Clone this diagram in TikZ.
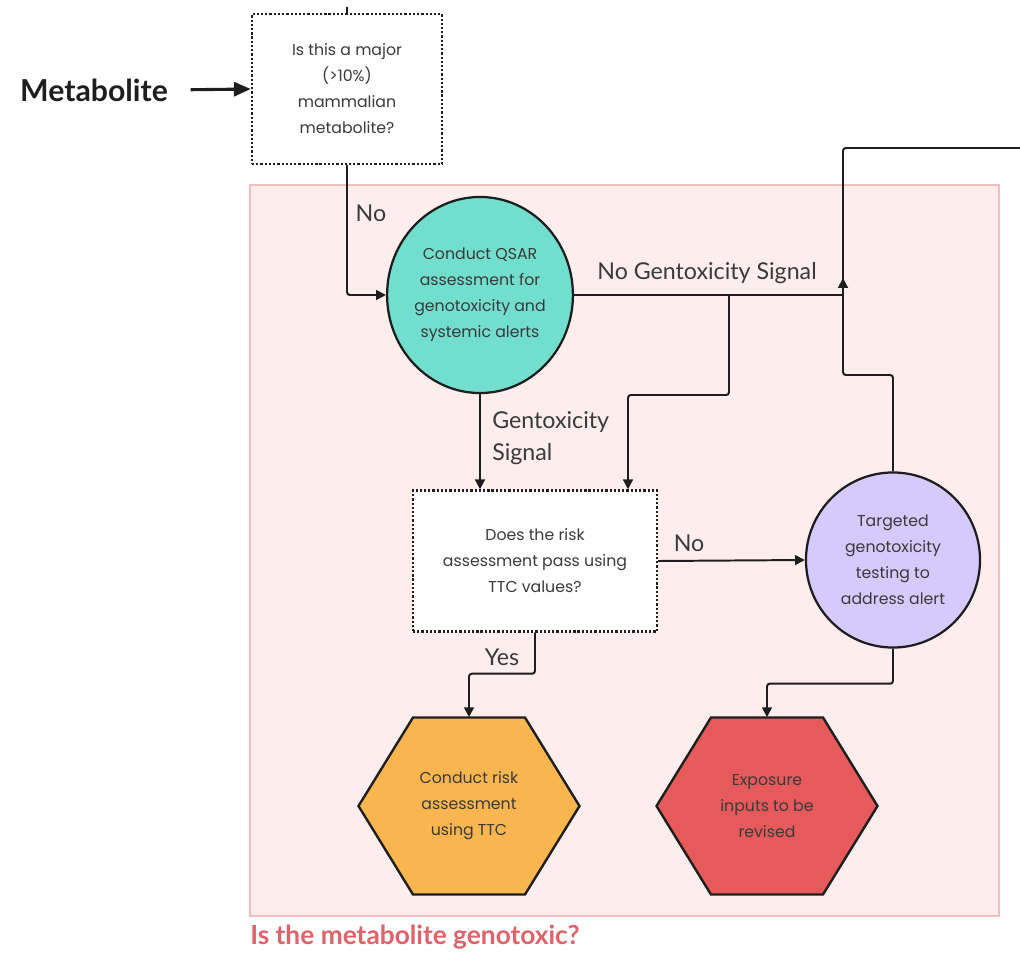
\documentclass[tikz,border=0pt]{standalone}
\usepackage{fontspec}
\setmainfont{Lato}
\newfontfamily\shapefont{Poppins}
\usetikzlibrary{shapes.geometric,arrows.meta,calc}

\definecolor{ink}{HTML}{1E1E1E}
\definecolor{txt}{HTML}{3A3A3A}
\definecolor{zonefill}{HTML}{FDEDEC}
\definecolor{zoneline}{HTML}{F4BDBF}
\definecolor{zonetitle}{HTML}{E0626A}
\definecolor{teal}{HTML}{72DECD}
\definecolor{lilac}{HTML}{D5CAFB}
\definecolor{amber}{HTML}{F9B650}
\definecolor{coral}{HTML}{E65A5B}

\tikzset{
  conn/.style={draw=ink, line width=1.4pt},
  arr/.style={conn, -{Triangle[length=7pt,width=7pt]}},
  bigarr/.style={draw=ink, line width=2.2pt, -{Triangle[length=12pt,width=10pt]}},
  shapetext/.style={text=txt, font=\shapefont\fontsize{11.2}{18.5}\selectfont, align=center},
  dotbox/.style={shapetext, draw=ink, line width=1.7pt, dash pattern=on 1.6pt off 1.4pt, fill=white, inner sep=0pt},
  blob/.style={shapetext, ellipse, draw=ink, line width=1.6pt, inner sep=0pt},
  hexframe/.style={draw=ink, line width=1.7pt, line join=miter},
  hexbox/.style={shapetext, rectangle, draw=none, minimum width=5.525cm, minimum height=4.425cm, inner sep=0pt},
  lbl/.style={text=txt, font=\fontsize{16.5}{22.7}\selectfont, inner sep=0pt},
}

\begin{document}
\begin{tikzpicture}[x=0.025cm, y=-0.025cm]
\useasboundingbox (0,0) rectangle (1020,967);

% shaded zone for the genotoxicity question
\draw[fill=zonefill, draw=zoneline, line width=1.2pt] (250,185) rectangle (999,916);
\node[anchor=west, text=zonetitle, font=\bfseries\fontsize{18.7}{22}\selectfont, inner sep=0pt]
  (title) at (250,937) {Is the metabolite genotoxic?};

% entry point
\node[font=\bfseries\fontsize{21.5}{24}\selectfont, text=ink, inner sep=0pt]
  (met) at (94,90) {Metabolite};
\node[dotbox, minimum width=4.75cm, minimum height=3.75cm] (q1) at (347,89)
  {Is this a major\\(>10\%)\\mammalian\\metabolite?};

% QSAR screening
\node[blob, fill=teal, minimum width=4.625cm, minimum height=4.9cm] (qsar) at (480,295)
  {Conduct QSAR\\assessment for\\genotoxicity and\\systemic alerts};

% TTC decision
\node[dotbox, minimum width=6.1cm, minimum height=3.525cm] (q2) at (535,561)
  {Does the risk\\assessment pass using\\TTC values?};

% targeted testing
\node[blob, fill=lilac, minimum width=4.35cm, minimum height=4.375cm] (targ) at (893,560)
  {Targeted\\genotoxicity\\testing to\\address alert};

% outcome hexagons
\coordinate (h1c) at (469,806);
\coordinate (h2c) at (767,806);
\draw[hexframe, fill=amber]
  ($(h1c)+(-56,-88.5)$) -- ($(h1c)+(56,-88.5)$) -- ($(h1c)+(110.5,0)$) --
  ($(h1c)+(56,88.5)$) -- ($(h1c)+(-56,88.5)$) -- ($(h1c)+(-110.5,0)$) -- cycle;
\draw[hexframe, fill=coral]
  ($(h2c)+(-56,-88.5)$) -- ($(h2c)+(56,-88.5)$) -- ($(h2c)+(110.5,0)$) --
  ($(h2c)+(56,88.5)$) -- ($(h2c)+(-56,88.5)$) -- ($(h2c)+(-110.5,0)$) -- cycle;
\node[hexbox] (h1) at (h1c) {Conduct risk\\assessment\\using TTC};
\node[hexbox] (h2) at (h2c) {Exposure\\inputs to be\\revised};

% junction and routing points
\coordinate (jn) at (843,295);
\coordinate (br) at (729,295);
\coordinate (bk) at (628,395);
\coordinate (up1) at (843,375);
\coordinate (ex) at (1020,148);

% connectors
\draw[conn] (q1.north) -- ++(0,-6);
\draw[bigarr, shorten <=16pt] (met.east) -- (q1.west);
\draw[arr, rounded corners=2pt] (q1.south) |- (qsar.west);
\draw[arr] (qsar.east) -- (jn) -- ++(0,-17);
\draw[arr, rounded corners=2pt] (br) |- (bk) -- (bk |- q2.north);
\draw[arr] (qsar.south) -- (qsar.south |- q2.north);
\draw[arr] (q2.east) -- (targ.west);
\draw[arr, rounded corners=2pt] (q2.south) -- ++(0,41) -| (h1.north);
\draw[arr, rounded corners=2pt] (targ.south) -- ++(0,35) -| (h2.north);
\draw[conn, rounded corners=2pt] (targ.north) |- (up1) -- (up1 |- ex) -- (ex);

% connector labels
\node[lbl] (lno1) at (371,213) {No};
\node[lbl] (lnogen) at (707,273) {No Gentoxicity Signal};
\node[lbl, anchor=north west, align=left] (lgen) at (492,411) {Gentoxicity\\Signal};
\node[lbl] (lno2) at (689,543) {No};
\node[lbl] (lyes) at (502,657) {Yes};
\end{tikzpicture}
\end{document}
